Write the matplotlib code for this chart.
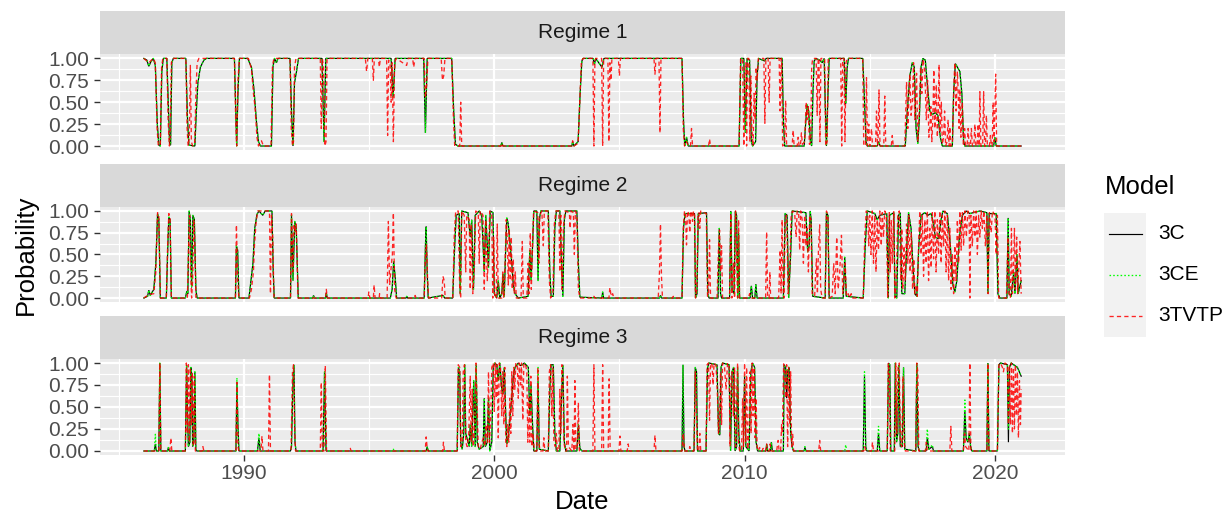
import matplotlib
matplotlib.use("Agg")
import matplotlib.pyplot as plt
from matplotlib.patches import Rectangle
from matplotlib.lines import Line2D

plt.rcParams["font.family"] = ["Liberation Sans", "DejaVu Sans"]

# ── Data (decimal year, smoothed probability) ──────────────────────────────
# Regime 1
c_r1 = [
    (1986.00, 1.00), (1986.12, 0.98), (1986.20, 0.91), (1986.28, 0.96), (1986.38, 1.00), (1986.46, 0.92),
    (1986.54, 0.25), (1986.60, 0.01), (1986.66, 0.00), (1986.72, 0.85), (1986.78, 1.00), (1986.92, 1.00),
    (1986.98, 0.45), (1987.03, 0.02), (1987.07, 0.01), (1987.12, 0.95), (1987.18, 1.00), (1987.68, 1.00),
    (1987.74, 0.35), (1987.80, 0.01), (1988.04, 0.00), (1988.10, 0.40), (1988.16, 0.72), (1988.26, 0.90),
    (1988.40, 0.98), (1988.50, 1.00), (1989.62, 1.00), (1989.67, 0.45), (1989.71, 0.00), (1989.76, 0.60),
    (1989.82, 1.00), (1990.15, 1.00), (1990.30, 0.90), (1990.40, 0.65), (1990.50, 0.28), (1990.58, 0.05),
    (1990.66, 0.00), (1991.10, 0.00), (1991.16, 0.90), (1991.22, 1.00), (1991.30, 0.95), (1991.36, 1.00),
    (1991.84, 1.00), (1991.90, 0.40), (1991.96, 0.00), (1992.02, 0.72), (1992.10, 0.85), (1992.18, 1.00),
    (1993.12, 1.00), (1993.20, 0.05), (1993.27, 1.00), (1995.88, 1.00), (1995.96, 0.56), (1996.04, 1.00),
    (1997.18, 1.00), (1997.25, 0.15), (1997.32, 1.00), (1998.30, 1.00), (1998.38, 0.40), (1998.45, 0.02),
    (1998.55, 0.00), (2000.26, 0.00), (2000.30, 0.04), (2000.35, 0.00), (2003.10, 0.00), (2003.13, 0.05),
    (2003.18, 0.00), (2003.35, 0.05), (2003.43, 0.60), (2003.50, 0.97), (2003.55, 1.00), (2003.95, 1.00),
    (2004.00, 0.93), (2004.05, 1.00), (2004.30, 0.90), (2004.38, 1.00), (2007.50, 1.00), (2007.56, 0.30),
    (2007.61, 0.00), (2007.68, 0.10), (2007.75, 0.00), (2009.78, 0.00), (2009.85, 1.00), (2009.97, 1.00),
    (2010.03, 0.15), (2010.10, 1.00), (2010.20, 0.98), (2010.27, 0.05), (2010.32, 0.00), (2010.44, 0.05),
    (2010.50, 0.80), (2010.56, 1.00), (2010.80, 0.97), (2010.86, 1.00), (2011.50, 1.00), (2011.55, 0.30),
    (2011.60, 0.00), (2012.38, 0.00), (2012.45, 0.30), (2012.50, 0.47), (2012.56, 0.40), (2012.63, 0.05),
    (2012.68, 0.00), (2012.73, 0.60), (2012.78, 0.97), (2012.85, 1.00), (2013.00, 0.98), (2013.10, 0.95),
    (2013.18, 1.00), (2013.22, 0.50), (2013.27, 0.00), (2013.32, 0.50), (2013.38, 1.00), (2013.98, 1.00),
    (2014.04, 0.48), (2014.10, 0.90), (2014.15, 1.00), (2014.72, 1.00), (2014.78, 0.60), (2014.85, 0.05),
    (2014.90, 0.00), (2015.30, 0.00), (2015.35, 0.05), (2015.42, 0.00), (2016.42, 0.00), (2016.50, 0.40),
    (2016.60, 0.80), (2016.70, 0.95), (2016.78, 0.90), (2016.85, 0.20), (2016.92, 0.03), (2016.98, 0.30),
    (2017.05, 0.90), (2017.12, 1.00), (2017.22, 0.98), (2017.30, 0.70), (2017.40, 0.40), (2017.50, 0.36),
    (2017.62, 0.38), (2017.72, 0.35), (2017.82, 0.10), (2017.90, 0.00), (2018.30, 0.00), (2018.35, 0.60),
    (2018.42, 0.94), (2018.50, 0.90), (2018.60, 0.85), (2018.68, 0.60), (2018.75, 0.05), (2018.80, 0.00),
    (2019.95, 0.00), (2020.00, 0.10), (2020.05, 0.00), (2021.05, 0.00),
]
ce_r1 = list(c_r1)  # 3CE sits on top of 3C in this regime
t_r1 = [
    (1986.00, 1.00), (1986.12, 0.97), (1986.20, 0.95), (1986.38, 1.00), (1986.46, 0.95), (1986.53, 0.20),
    (1986.58, 0.00), (1986.66, 0.02), (1986.71, 0.90), (1986.76, 1.00), (1986.92, 1.00), (1986.97, 0.30),
    (1987.02, 0.00), (1987.05, 0.10), (1987.10, 0.95), (1987.16, 1.00), (1987.68, 1.00), (1987.73, 0.20),
    (1987.77, 0.00), (1987.82, 0.10), (1987.86, 0.92), (1987.90, 0.05), (1987.95, 0.00), (1988.03, 0.02),
    (1988.08, 0.60), (1988.13, 0.95), (1988.20, 1.00), (1989.62, 1.00), (1989.67, 0.30), (1989.71, 0.00),
    (1989.76, 0.75), (1989.82, 1.00), (1990.18, 1.00), (1990.30, 0.88), (1990.38, 0.60), (1990.44, 0.45),
    (1990.52, 0.10), (1990.58, 0.00), (1990.70, 0.06), (1990.78, 0.00), (1991.08, 0.00), (1991.14, 0.92),
    (1991.20, 1.00), (1991.84, 1.00), (1991.89, 0.20), (1991.94, 0.00), (1991.98, 0.05), (1992.02, 0.90),
    (1992.08, 1.00), (1993.05, 1.00), (1993.09, 0.20), (1993.13, 1.00), (1993.18, 0.90), (1993.23, 0.00),
    (1993.28, 0.05), (1993.32, 1.00), (1994.85, 1.00), (1994.90, 0.85), (1994.95, 1.00), (1995.13, 1.00),
    (1995.17, 0.75), (1995.21, 1.00), (1995.37, 1.00), (1995.41, 0.90), (1995.45, 1.00), (1995.70, 1.00),
    (1995.74, 0.12), (1995.78, 0.98), (1995.84, 0.92), (1995.88, 0.50), (1995.92, 0.95), (1995.97, 0.05),
    (1996.02, 0.95), (1996.08, 1.00), (1996.50, 0.92), (1996.56, 1.00), (1996.74, 1.00), (1996.78, 0.90),
    (1996.84, 1.00), (1997.20, 1.00), (1997.25, 0.55), (1997.30, 0.70), (1997.35, 1.00), (1997.88, 1.00),
    (1997.93, 0.75), (1997.98, 0.80), (1998.03, 1.00), (1998.30, 1.00), (1998.37, 0.30), (1998.42, 0.00),
    (1998.62, 0.00), (1998.66, 0.50), (1998.70, 0.00), (2000.28, 0.00), (2000.30, 0.03), (2000.34, 0.00),
    (2003.10, 0.00), (2003.13, 0.06), (2003.18, 0.00), (2003.35, 0.03), (2003.42, 0.55), (2003.48, 0.97),
    (2003.55, 1.00), (2003.94, 1.00), (2003.98, 0.00), (2004.02, 0.97), (2004.06, 1.00), (2004.29, 1.00),
    (2004.33, 0.00), (2004.37, 1.00), (2004.54, 1.00), (2004.58, 0.05), (2004.62, 0.95), (2004.66, 0.75),
    (2004.70, 1.00), (2004.96, 1.00), (2005.00, 0.80), (2005.04, 1.00), (2006.38, 1.00), (2006.42, 0.82),
    (2006.46, 1.00), (2006.58, 1.00), (2006.62, 0.15), (2006.66, 1.00), (2007.50, 1.00), (2007.55, 0.20),
    (2007.60, 0.00), (2007.68, 0.05), (2007.75, 0.00), (2007.84, 0.00), (2007.88, 0.20), (2007.92, 0.00),
    (2008.56, 0.00), (2008.60, 0.08), (2008.64, 0.00), (2009.78, 0.00), (2009.84, 1.00), (2009.92, 1.00),
    (2009.97, 0.00), (2010.02, 0.90), (2010.05, 0.95), (2010.08, 0.00), (2010.12, 1.00), (2010.17, 1.00),
    (2010.21, 0.05), (2010.25, 0.80), (2010.29, 0.20), (2010.34, 0.00), (2010.38, 0.60), (2010.42, 0.30),
    (2010.46, 0.90), (2010.50, 0.75), (2010.55, 1.00), (2010.77, 1.00), (2010.81, 0.26), (2010.85, 1.00),
    (2010.94, 1.00), (2010.98, 0.50), (2011.02, 1.00), (2011.38, 1.00), (2011.42, 0.40), (2011.46, 1.00),
    (2011.48, 0.98), (2011.52, 0.00), (2011.60, 0.02), (2011.64, 0.52), (2011.68, 0.00), (2011.90, 0.00),
    (2011.94, 0.18), (2011.98, 0.00), (2012.10, 0.00), (2012.14, 0.10), (2012.18, 0.00), (2012.23, 0.00),
    (2012.27, 0.15), (2012.31, 0.02), (2012.40, 0.05), (2012.46, 0.50), (2012.50, 0.30), (2012.54, 0.45),
    (2012.59, 0.02), (2012.64, 0.05), (2012.68, 0.90), (2012.72, 1.00), (2012.86, 1.00), (2012.90, 0.35),
    (2012.94, 1.00), (2012.97, 1.00), (2013.01, 0.05), (2013.05, 1.00), (2013.20, 1.00), (2013.24, 0.00),
    (2013.30, 0.05), (2013.34, 1.00), (2013.84, 1.00), (2013.88, 0.00), (2013.92, 1.00), (2013.97, 1.00),
    (2014.01, 0.05), (2014.05, 0.95), (2014.10, 1.00), (2014.72, 1.00), (2014.76, 0.00), (2014.83, 0.02),
    (2014.87, 0.78), (2014.91, 0.00), (2014.96, 0.25), (2015.00, 0.00), (2015.07, 0.20), (2015.11, 0.00),
    (2015.23, 0.00), (2015.27, 0.40), (2015.31, 0.00), (2015.33, 0.05), (2015.37, 0.64), (2015.41, 0.00),
    (2015.56, 0.00), (2015.60, 0.57), (2015.64, 0.00), (2015.86, 0.00), (2015.90, 0.12), (2015.94, 0.00),
    (2016.40, 0.00), (2016.47, 0.73), (2016.52, 0.20), (2016.60, 0.82), (2016.65, 0.35), (2016.70, 0.50),
    (2016.75, 0.95), (2016.80, 0.30), (2016.87, 0.83), (2016.92, 0.05), (2016.98, 0.40), (2017.03, 0.90),
    (2017.08, 0.60), (2017.13, 0.99), (2017.20, 0.85), (2017.26, 0.30), (2017.31, 0.75), (2017.36, 0.10),
    (2017.40, 0.20), (2017.44, 0.45), (2017.48, 0.05), (2017.52, 0.30), (2017.56, 0.87), (2017.60, 0.20),
    (2017.66, 0.70), (2017.70, 0.10), (2017.74, 0.40), (2017.77, 0.93), (2017.81, 0.15), (2017.86, 0.50),
    (2017.90, 0.02), (2017.95, 0.10), (2017.99, 0.40), (2018.03, 0.00), (2018.09, 0.05), (2018.13, 0.30),
    (2018.17, 0.00), (2018.20, 0.22), (2018.24, 0.00), (2018.30, 0.02), (2018.36, 0.70), (2018.40, 0.95),
    (2018.45, 0.40), (2018.50, 0.85), (2018.53, 0.65), (2018.57, 0.20), (2018.60, 0.65), (2018.64, 0.10),
    (2018.70, 0.50), (2018.74, 0.00), (2018.79, 0.20), (2018.83, 0.00), (2018.89, 0.00), (2018.93, 0.20),
    (2018.97, 0.00), (2019.02, 0.00), (2019.06, 0.20), (2019.10, 0.00), (2019.16, 0.00), (2019.20, 0.25),
    (2019.24, 0.00), (2019.29, 0.00), (2019.33, 0.25), (2019.37, 0.00), (2019.40, 0.62), (2019.44, 0.00),
    (2019.51, 0.00), (2019.55, 0.62), (2019.59, 0.00), (2019.62, 0.00), (2019.66, 0.35), (2019.70, 0.00),
    (2019.78, 0.00), (2019.82, 0.12), (2019.86, 0.00), (2019.89, 0.00), (2019.93, 0.50), (2019.97, 0.05),
    (2020.03, 0.82), (2020.07, 0.00), (2021.05, 0.00),
]

# Regime 2
c_r2 = [
    (1986.00, 0.00), (1986.15, 0.02), (1986.20, 0.09), (1986.26, 0.03), (1986.40, 0.10), (1986.48, 0.40),
    (1986.55, 0.97), (1986.60, 0.90), (1986.66, 0.00), (1986.90, 0.00), (1986.96, 0.60), (1987.00, 0.93),
    (1987.05, 0.90), (1987.10, 0.00), (1987.66, 0.00), (1987.72, 0.08), (1987.76, 0.05), (1987.81, 1.00),
    (1987.86, 0.90), (1987.91, 0.12), (1987.96, 0.95), (1988.02, 0.90), (1988.08, 0.10), (1988.13, 0.00),
    (1989.66, 0.00), (1989.70, 0.60), (1989.75, 0.55), (1989.80, 0.00), (1990.20, 0.00), (1990.26, 0.15),
    (1990.36, 0.40), (1990.43, 0.80), (1990.52, 0.96), (1990.60, 1.00), (1990.75, 0.95), (1990.85, 1.00),
    (1991.12, 1.00), (1991.17, 0.30), (1991.21, 0.00), (1991.86, 0.00), (1991.90, 0.95), (1991.96, 0.20),
    (1992.03, 0.88), (1992.09, 0.80), (1992.17, 0.00), (1992.76, 0.00), (1992.78, 0.03), (1992.82, 0.00),
    (1993.26, 0.00), (1993.29, 0.06), (1993.33, 0.00), (1995.85, 0.00), (1995.92, 0.10), (1995.98, 0.42),
    (1996.04, 0.25), (1996.10, 0.00), (1996.48, 0.00), (1996.50, 0.02), (1996.54, 0.00), (1997.20, 0.00),
    (1997.25, 0.60), (1997.28, 0.82), (1997.32, 0.30), (1997.36, 0.00), (1997.95, 0.03), (1998.02, 0.00),
    (1998.34, 0.00), (1998.42, 0.60), (1998.48, 0.95), (1998.60, 0.97), (1998.64, 0.05), (1998.70, 1.00),
    (1998.95, 0.98), (1999.04, 0.70), (1999.10, 0.90), (1999.17, 0.10), (1999.24, 0.95), (1999.40, 1.00),
    (1999.50, 0.95), (1999.60, 0.30), (1999.66, 0.95), (1999.77, 0.35), (1999.84, 1.00), (1999.95, 0.98),
    (2000.00, 0.05), (2000.10, 0.00), (2000.16, 0.20), (2000.22, 0.00), (2000.30, 0.05), (2000.35, 0.28),
    (2000.40, 0.02), (2000.46, 0.60), (2000.50, 0.92), (2000.56, 0.85), (2000.62, 0.65), (2000.70, 0.40),
    (2000.76, 0.15), (2000.83, 0.05), (2000.96, 0.00), (2001.35, 0.02), (2001.42, 0.55), (2001.47, 0.20),
    (2001.53, 0.60), (2001.58, 1.00), (2001.70, 1.00), (2001.75, 0.20), (2001.80, 0.90), (2001.86, 1.00),
    (2002.16, 1.00), (2002.22, 0.30), (2002.27, 0.02), (2002.36, 0.02), (2002.42, 0.80), (2002.48, 1.00),
    (2002.62, 1.00), (2002.68, 0.45), (2002.74, 0.02), (2002.80, 0.90), (2002.86, 1.00), (2003.30, 1.00),
    (2003.36, 0.40), (2003.42, 0.01), (2004.30, 0.00), (2004.33, 0.07), (2004.37, 0.00), (2006.60, 0.00),
    (2006.64, 0.03), (2006.68, 0.00), (2007.50, 0.00), (2007.56, 0.80), (2007.62, 0.97), (2008.00, 0.97),
    (2008.04, 0.00), (2008.10, 0.05), (2008.15, 0.97), (2008.48, 0.98), (2008.53, 0.05), (2008.58, 0.00),
    (2008.94, 0.00), (2008.99, 0.80), (2009.04, 0.05), (2009.08, 0.00), (2009.40, 0.00), (2009.45, 1.00),
    (2009.50, 0.10), (2009.58, 0.05), (2009.63, 1.00), (2009.68, 0.95), (2009.73, 0.00), (2009.76, 0.75),
    (2009.80, 0.00), (2010.22, 0.00), (2010.27, 0.14), (2010.32, 0.00), (2010.41, 0.00), (2010.45, 0.16),
    (2010.50, 0.00), (2011.55, 0.00), (2011.62, 0.97), (2011.70, 0.95), (2011.76, 0.00), (2011.84, 0.50),
    (2011.90, 1.00), (2012.45, 0.98), (2012.52, 0.53), (2012.58, 0.60), (2012.62, 1.00), (2012.66, 0.90),
    (2012.72, 0.02), (2013.22, 0.00), (2013.27, 0.98), (2013.33, 0.95), (2013.38, 0.00), (2013.94, 0.00),
    (2014.00, 0.47), (2014.06, 0.02), (2014.74, 0.00), (2014.82, 0.60), (2014.90, 1.00), (2015.20, 0.97),
    (2015.30, 0.90), (2015.40, 0.95), (2015.68, 0.97), (2015.74, 0.00), (2015.79, 0.95), (2015.96, 0.98),
    (2016.01, 0.02), (2016.08, 0.00), (2016.15, 0.95), (2016.22, 0.98), (2016.28, 0.05), (2016.40, 0.05),
    (2016.48, 0.60), (2016.55, 0.98), (2016.65, 0.80), (2016.72, 0.40), (2016.80, 0.05), (2016.88, 0.02),
    (2016.96, 0.60), (2017.05, 0.95), (2017.20, 0.98), (2017.32, 0.95), (2017.45, 0.97), (2017.55, 0.85),
    (2017.62, 0.70), (2017.75, 0.68), (2017.85, 0.90), (2017.92, 1.00), (2018.10, 0.97), (2018.22, 0.60),
    (2018.32, 0.15), (2018.40, 0.07), (2018.48, 0.20), (2018.58, 0.70), (2018.70, 0.95), (2018.85, 1.00),
    (2019.00, 0.97), (2019.40, 1.00), (2019.68, 0.98), (2019.72, 0.05), (2019.77, 0.97), (2020.05, 0.97),
    (2020.12, 0.05), (2020.20, 0.00), (2020.48, 0.00), (2020.53, 0.92), (2020.57, 0.05), (2020.65, 0.02),
    (2020.75, 0.30), (2020.80, 0.05), (2020.88, 0.50), (2020.93, 0.05), (2021.05, 0.20),
]
ce_r2 = list(c_r2)  # 3CE sits on top of 3C in this regime
t_r2 = [
    (1986.00, 0.00), (1986.20, 0.04), (1986.40, 0.05), (1986.48, 0.30), (1986.55, 0.98), (1986.60, 0.95),
    (1986.66, 0.00), (1986.90, 0.00), (1986.96, 0.70), (1987.00, 0.97), (1987.05, 0.93), (1987.10, 0.00),
    (1987.74, 0.00), (1987.79, 0.60), (1987.83, 0.95), (1987.87, 0.30), (1987.91, 0.00), (1987.95, 0.20),
    (1988.00, 0.90), (1988.04, 0.60), (1988.08, 0.00), (1989.66, 0.00), (1989.70, 0.84), (1989.75, 0.20),
    (1989.80, 0.00), (1990.22, 0.00), (1990.30, 0.10), (1990.38, 0.30), (1990.42, 0.60), (1990.48, 0.85),
    (1990.55, 1.00), (1991.02, 1.00), (1991.06, 0.05), (1991.10, 0.95), (1991.15, 0.70), (1991.20, 0.00),
    (1991.86, 0.00), (1991.90, 0.97), (1991.95, 0.30), (1992.00, 0.85), (1992.05, 0.75), (1992.09, 0.85),
    (1992.16, 0.00), (1993.26, 0.00), (1993.29, 0.10), (1993.33, 0.00), (1994.96, 0.00), (1994.99, 0.07),
    (1995.03, 0.00), (1995.17, 0.00), (1995.20, 0.15), (1995.24, 0.00), (1995.40, 0.00), (1995.42, 0.05),
    (1995.46, 0.00), (1995.72, 0.00), (1995.77, 0.88), (1995.82, 0.15), (1995.88, 0.35), (1995.93, 0.50),
    (1995.97, 0.98), (1996.02, 0.10), (1996.08, 0.00), (1996.80, 0.00), (1996.84, 0.03), (1996.88, 0.00),
    (1997.20, 0.00), (1997.25, 0.45), (1997.29, 0.62), (1997.34, 0.20), (1997.38, 0.00), (1997.90, 0.00),
    (1997.95, 0.25), (1998.00, 0.20), (1998.04, 0.00), (1998.34, 0.00), (1998.40, 0.70), (1998.46, 1.00),
    (1998.56, 1.00), (1998.62, 0.10), (1998.66, 0.00), (1998.70, 1.00), (1998.80, 0.95), (1998.86, 0.30),
    (1998.90, 0.95), (1999.00, 0.90), (1999.04, 0.10), (1999.08, 0.85), (1999.14, 0.05), (1999.20, 0.30),
    (1999.26, 1.00), (1999.36, 0.98), (1999.40, 0.40), (1999.44, 1.00), (1999.55, 0.95), (1999.60, 0.10),
    (1999.66, 0.90), (1999.72, 0.20), (1999.77, 0.50), (1999.82, 1.00), (1999.90, 0.95), (1999.94, 0.00),
    (1999.98, 0.70), (2000.02, 0.00), (2000.08, 0.00), (2000.12, 0.85), (2000.16, 0.00), (2000.30, 0.00),
    (2000.34, 0.30), (2000.38, 0.00), (2000.43, 0.40), (2000.48, 0.90), (2000.53, 0.60), (2000.56, 0.15),
    (2000.60, 0.80), (2000.64, 0.20), (2000.68, 0.70), (2000.72, 0.10), (2000.76, 0.45), (2000.80, 0.05),
    (2000.84, 0.30), (2000.88, 0.00), (2001.07, 0.00), (2001.12, 0.65), (2001.16, 0.00), (2001.30, 0.00),
    (2001.35, 0.40), (2001.39, 0.05), (2001.44, 0.75), (2001.48, 0.10), (2001.52, 0.50), (2001.57, 1.00),
    (2001.74, 0.98), (2001.78, 0.40), (2001.82, 0.95), (2001.90, 1.00), (2001.96, 0.60), (2002.00, 1.00),
    (2002.14, 1.00), (2002.20, 0.20), (2002.25, 0.00), (2002.34, 0.05), (2002.40, 0.85), (2002.46, 1.00),
    (2002.58, 1.00), (2002.62, 0.30), (2002.66, 0.95), (2002.70, 0.10), (2002.76, 0.80), (2002.82, 1.00),
    (2003.00, 0.98), (2003.03, 0.80), (2003.07, 1.00), (2003.16, 0.98), (2003.20, 0.50), (2003.24, 1.00),
    (2003.30, 0.95), (2003.36, 0.10), (2003.42, 0.00), (2003.96, 0.00), (2003.98, 0.02), (2004.02, 0.00),
    (2004.58, 0.00), (2004.62, 0.12), (2004.67, 0.02), (2004.73, 0.05), (2004.78, 0.00), (2006.55, 0.00),
    (2006.60, 0.30), (2006.64, 0.85), (2006.68, 0.25), (2006.72, 0.00), (2007.12, 0.00), (2007.15, 0.02),
    (2007.19, 0.00), (2007.50, 0.00), (2007.55, 0.80), (2007.60, 1.00), (2007.64, 0.95), (2007.68, 0.61),
    (2007.72, 1.00), (2007.77, 0.97), (2007.81, 0.75), (2007.85, 1.00), (2007.89, 0.98), (2007.92, 0.88),
    (2007.96, 1.00), (2008.00, 0.95), (2008.04, 0.00), (2008.09, 0.10), (2008.14, 0.95), (2008.18, 0.98),
    (2008.21, 0.80), (2008.25, 1.00), (2008.47, 0.97), (2008.52, 0.02), (2008.56, 0.05), (2008.60, 0.67),
    (2008.64, 0.00), (2008.90, 0.00), (2008.96, 0.60), (2009.00, 0.78), (2009.04, 0.30), (2009.08, 0.60),
    (2009.12, 0.00), (2009.40, 0.00), (2009.45, 0.97), (2009.49, 0.00), (2009.55, 0.40), (2009.60, 0.00),
    (2009.64, 1.00), (2009.68, 0.50), (2009.72, 0.00), (2009.76, 0.90), (2009.80, 0.00), (2010.15, 0.00),
    (2010.20, 0.05), (2010.25, 0.00), (2010.84, 0.00), (2010.88, 0.76), (2010.92, 0.00), (2010.98, 0.00),
    (2011.01, 0.30), (2011.04, 0.00), (2011.36, 0.00), (2011.42, 0.55), (2011.46, 0.05), (2011.50, 0.90),
    (2011.54, 0.10), (2011.58, 0.00), (2011.62, 0.90), (2011.68, 0.95), (2011.74, 0.05), (2011.80, 0.30),
    (2011.86, 0.95), (2011.92, 1.00), (2012.00, 0.98), (2012.06, 0.70), (2012.10, 1.00), (2012.16, 0.98),
    (2012.20, 0.55), (2012.24, 1.00), (2012.30, 0.90), (2012.35, 0.40), (2012.40, 0.95), (2012.45, 0.60),
    (2012.50, 0.80), (2012.55, 0.30), (2012.60, 0.95), (2012.65, 0.90), (2012.70, 0.05), (2012.80, 0.02),
    (2012.84, 0.30), (2012.87, 0.45), (2012.91, 0.05), (2012.95, 0.55), (2013.00, 0.84), (2013.04, 0.10),
    (2013.10, 0.00), (2013.22, 0.00), (2013.27, 1.00), (2013.33, 0.95), (2013.37, 0.00), (2013.50, 0.02),
    (2013.56, 0.40), (2013.62, 0.05), (2013.68, 0.70), (2013.74, 0.10), (2013.80, 0.30), (2013.87, 0.72),
    (2013.92, 0.05), (2013.97, 0.20), (2014.02, 0.40), (2014.07, 0.02), (2014.14, 0.05), (2014.20, 0.00),
    (2014.26, 0.05), (2014.30, 0.00), (2014.74, 0.00), (2014.80, 0.70), (2014.86, 1.00), (2014.92, 0.97),
    (2014.96, 0.60), (2015.00, 0.95), (2015.05, 0.50), (2015.10, 1.00), (2015.15, 0.40), (2015.20, 0.95),
    (2015.25, 0.30), (2015.30, 0.90), (2015.35, 0.55), (2015.40, 1.00), (2015.46, 0.60), (2015.50, 0.98),
    (2015.55, 0.70), (2015.60, 1.00), (2015.66, 0.95), (2015.72, 0.00), (2015.78, 0.98), (2015.82, 0.30),
    (2015.86, 0.90), (2015.90, 0.40), (2015.96, 1.00), (2016.00, 0.00), (2016.06, 0.20), (2016.12, 0.95),
    (2016.18, 1.00), (2016.24, 0.20), (2016.28, 0.80), (2016.32, 0.10), (2016.37, 0.60), (2016.42, 0.20),
    (2016.47, 0.85), (2016.52, 0.40), (2016.56, 0.95), (2016.61, 0.30), (2016.66, 0.75), (2016.71, 0.10),
    (2016.76, 0.45), (2016.80, 0.05), (2016.86, 0.15), (2016.90, 0.02), (2016.96, 0.70), (2017.00, 1.00),
    (2017.05, 0.50), (2017.10, 0.95), (2017.15, 0.25), (2017.20, 0.90), (2017.25, 0.40), (2017.30, 1.00),
    (2017.35, 0.20), (2017.40, 0.80), (2017.45, 0.35), (2017.50, 0.98), (2017.55, 0.45), (2017.60, 1.00),
    (2017.65, 0.30), (2017.70, 0.90), (2017.75, 0.50), (2017.80, 1.00), (2017.85, 0.40), (2017.90, 0.95),
    (2017.95, 0.60), (2018.00, 1.00), (2018.05, 0.30), (2018.10, 0.95), (2018.15, 0.20), (2018.20, 0.80),
    (2018.25, 0.10), (2018.30, 0.50), (2018.35, 0.05), (2018.40, 0.60), (2018.45, 0.20), (2018.50, 0.90),
    (2018.55, 0.40), (2018.60, 1.00), (2018.65, 0.55), (2018.70, 0.98), (2018.75, 0.60), (2018.80, 1.00),
    (2018.86, 0.70), (2018.92, 1.00), (2018.97, 0.98), (2019.00, 0.00), (2019.04, 0.95), (2019.10, 0.60),
    (2019.15, 1.00), (2019.20, 0.70), (2019.25, 1.00), (2019.30, 0.50), (2019.35, 0.95), (2019.40, 0.70),
    (2019.45, 1.00), (2019.50, 0.80), (2019.56, 1.00), (2019.62, 0.60), (2019.68, 0.95), (2019.73, 0.05),
    (2019.78, 0.98), (2019.85, 0.75), (2019.90, 1.00), (2020.00, 0.95), (2020.05, 0.50), (2020.10, 0.95),
    (2020.15, 0.00), (2020.46, 0.00), (2020.52, 0.70), (2020.56, 0.05), (2020.62, 0.00), (2020.66, 0.80),
    (2020.70, 0.05), (2020.74, 0.30), (2020.78, 0.80), (2020.82, 0.10), (2020.87, 0.70), (2020.91, 0.05),
    (2020.96, 0.40), (2021.00, 0.65), (2021.05, 0.05),
]

# Regime 3
c_r3 = [
    (1986.00, 0.00), (1986.42, 0.00), (1986.46, 0.08), (1986.50, 0.00), (1986.60, 0.00), (1986.64, 1.00),
    (1986.68, 0.00), (1986.95, 0.00), (1986.98, 0.04), (1987.02, 0.00), (1987.66, 0.00), (1987.71, 0.98),
    (1987.75, 0.40), (1987.78, 0.05), (1987.84, 0.10), (1987.88, 0.95), (1987.92, 0.85), (1987.95, 0.05),
    (1988.00, 0.10), (1988.04, 0.90), (1988.08, 0.02), (1988.12, 0.00), (1989.68, 0.00), (1989.72, 0.78),
    (1989.76, 0.30), (1989.80, 0.00), (1990.54, 0.00), (1990.60, 0.15), (1990.65, 0.00), (1991.86, 0.00),
    (1991.90, 0.05), (1991.96, 0.80), (1992.00, 0.98), (1992.04, 0.10), (1992.08, 0.00), (1993.16, 0.00),
    (1993.22, 0.90), (1993.28, 0.00), (1997.28, 0.00), (1997.32, 0.05), (1997.36, 0.00), (1998.52, 0.00),
    (1998.57, 0.95), (1998.62, 0.90), (1998.66, 0.10), (1998.72, 0.02), (1998.78, 0.20), (1998.82, 0.98),
    (1998.86, 0.20), (1999.00, 0.05), (1999.04, 0.30), (1999.10, 0.05), (1999.18, 0.80), (1999.24, 0.05),
    (1999.28, 0.98), (1999.32, 0.10), (1999.40, 0.02), (1999.56, 0.05), (1999.60, 0.60), (1999.64, 0.05),
    (1999.72, 0.10), (1999.77, 0.60), (1999.82, 0.00), (1999.90, 0.10), (1999.96, 0.95), (2000.02, 1.00),
    (2000.10, 0.98), (2000.16, 0.80), (2000.22, 1.00), (2000.30, 0.70), (2000.35, 0.65), (2000.40, 0.95),
    (2000.46, 0.40), (2000.50, 0.08), (2000.56, 0.15), (2000.62, 0.35), (2000.70, 0.60), (2000.76, 0.85),
    (2000.83, 0.95), (2000.96, 1.00), (2001.05, 0.97), (2001.12, 0.98), (2001.20, 1.00), (2001.30, 0.97),
    (2001.36, 0.95), (2001.42, 0.40), (2001.47, 0.75), (2001.53, 0.30), (2001.58, 0.00), (2001.70, 0.00),
    (2001.75, 0.80), (2001.80, 0.02), (2002.16, 0.00), (2002.22, 0.70), (2002.27, 0.98), (2002.36, 0.98),
    (2002.42, 0.20), (2002.48, 0.00), (2002.62, 0.00), (2002.68, 0.55), (2002.74, 0.98), (2002.80, 0.10),
    (2002.86, 0.00), (2003.30, 0.00), (2003.36, 0.30), (2003.42, 0.03), (2003.50, 0.00), (2007.50, 0.00),
    (2007.54, 0.98), (2007.58, 0.05), (2007.62, 0.00), (2007.98, 0.00), (2008.03, 0.95), (2008.08, 0.90),
    (2008.12, 0.00), (2008.46, 0.00), (2008.52, 0.95), (2008.58, 1.00), (2008.90, 0.98), (2008.96, 0.20),
    (2009.01, 0.18), (2009.06, 0.95), (2009.12, 1.00), (2009.38, 0.98), (2009.44, 0.00), (2009.50, 0.90),
    (2009.56, 0.95), (2009.62, 0.00), (2009.68, 0.05), (2009.72, 0.95), (2009.77, 0.20), (2009.82, 0.00),
    (2009.95, 0.00), (2010.00, 0.85), (2010.05, 0.05), (2010.18, 0.00), (2010.25, 0.90), (2010.32, 1.00),
    (2010.40, 0.95), (2010.46, 0.10), (2010.52, 0.00), (2010.86, 0.00), (2010.88, 0.08), (2010.92, 0.00),
    (2011.03, 0.00), (2011.07, 0.10), (2011.11, 0.00), (2011.55, 0.00), (2011.58, 0.98), (2011.64, 0.95),
    (2011.68, 0.60), (2011.72, 0.90), (2011.78, 0.95), (2011.84, 0.20), (2011.90, 0.05), (2011.95, 0.00),
    (2012.38, 0.00), (2012.41, 0.04), (2012.45, 0.00), (2014.74, 0.00), (2014.79, 0.85), (2014.84, 0.05),
    (2014.88, 0.00), (2015.30, 0.00), (2015.35, 0.20), (2015.40, 0.00), (2015.70, 0.00), (2015.75, 1.00),
    (2015.80, 0.98), (2015.84, 0.00), (2015.98, 0.00), (2016.02, 1.00), (2016.07, 0.10), (2016.12, 0.20),
    (2016.16, 0.98), (2016.22, 0.05), (2016.30, 0.05), (2016.35, 0.95), (2016.40, 0.02), (2016.84, 0.00),
    (2016.88, 1.00), (2016.93, 0.05), (2016.98, 0.00), (2017.25, 0.00), (2017.30, 0.15), (2017.36, 0.02),
    (2017.50, 0.05), (2017.55, 0.00), (2018.74, 0.00), (2018.80, 0.45), (2018.85, 0.15), (2018.92, 0.10),
    (2018.98, 0.20), (2019.03, 0.05), (2019.08, 0.00), (2019.68, 0.00), (2019.72, 1.00), (2019.76, 0.00),
    (2020.10, 0.00), (2020.16, 0.98), (2020.22, 1.00), (2020.50, 0.98), (2020.54, 0.10), (2020.58, 0.95),
    (2020.65, 1.00), (2020.80, 0.97), (2020.90, 0.95), (2021.05, 0.85),
]
ce_r3 = [
    (1986.00, 0.00), (1986.42, 0.00), (1986.46, 0.19), (1986.50, 0.00), (1986.60, 0.00), (1986.64, 1.00),
    (1986.68, 0.00), (1986.95, 0.00), (1986.98, 0.04), (1987.02, 0.00), (1987.66, 0.00), (1987.71, 0.98),
    (1987.75, 0.40), (1987.78, 0.05), (1987.84, 0.10), (1987.88, 0.95), (1987.92, 0.85), (1987.95, 0.05),
    (1988.00, 0.10), (1988.04, 0.90), (1988.08, 0.02), (1988.12, 0.00), (1989.68, 0.00), (1989.72, 0.83),
    (1989.76, 0.30), (1989.80, 0.00), (1990.54, 0.00), (1990.60, 0.20), (1990.65, 0.00), (1991.86, 0.00),
    (1991.90, 0.05), (1991.96, 0.85), (1992.00, 0.98), (1992.04, 0.10), (1992.08, 0.00), (1993.16, 0.00),
    (1993.22, 0.90), (1993.28, 0.00), (1995.95, 0.00), (1995.97, 0.02), (1996.00, 0.00), (1997.28, 0.00),
    (1997.32, 0.05), (1997.36, 0.00), (1998.52, 0.00), (1998.57, 0.95), (1998.62, 0.90), (1998.66, 0.10),
    (1998.72, 0.02), (1998.78, 0.20), (1998.82, 0.98), (1998.86, 0.20), (1999.00, 0.05), (1999.04, 0.30),
    (1999.10, 0.05), (1999.18, 0.80), (1999.24, 0.05), (1999.28, 0.98), (1999.32, 0.10), (1999.40, 0.02),
    (1999.56, 0.05), (1999.60, 0.60), (1999.64, 0.05), (1999.72, 0.10), (1999.77, 0.60), (1999.82, 0.00),
    (1999.90, 0.10), (1999.96, 0.95), (2000.02, 1.00), (2000.10, 0.98), (2000.16, 0.80), (2000.22, 1.00),
    (2000.30, 0.70), (2000.35, 0.65), (2000.40, 0.95), (2000.46, 0.40), (2000.50, 0.08), (2000.56, 0.15),
    (2000.62, 0.35), (2000.70, 0.60), (2000.76, 0.85), (2000.83, 0.95), (2000.96, 1.00), (2001.05, 0.97),
    (2001.12, 0.98), (2001.20, 1.00), (2001.30, 0.97), (2001.36, 0.95), (2001.42, 0.40), (2001.47, 0.75),
    (2001.53, 0.30), (2001.58, 0.00), (2001.70, 0.00), (2001.75, 0.95), (2001.80, 0.02), (2002.16, 0.00),
    (2002.22, 0.70), (2002.27, 0.98), (2002.36, 0.98), (2002.42, 0.20), (2002.48, 0.00), (2002.62, 0.00),
    (2002.68, 0.55), (2002.74, 0.98), (2002.80, 0.10), (2002.86, 0.00), (2003.30, 0.00), (2003.36, 0.30),
    (2003.42, 0.03), (2003.50, 0.00), (2007.50, 0.00), (2007.54, 0.98), (2007.58, 0.05), (2007.62, 0.00),
    (2007.98, 0.00), (2008.03, 0.95), (2008.08, 0.90), (2008.12, 0.00), (2008.46, 0.00), (2008.52, 0.95),
    (2008.58, 1.00), (2008.90, 0.98), (2008.96, 0.20), (2009.01, 0.18), (2009.06, 0.95), (2009.12, 1.00),
    (2009.38, 0.98), (2009.44, 0.00), (2009.50, 0.90), (2009.56, 0.95), (2009.62, 0.00), (2009.68, 0.05),
    (2009.72, 0.95), (2009.77, 0.20), (2009.82, 0.00), (2009.95, 0.00), (2010.00, 0.85), (2010.05, 0.05),
    (2010.18, 0.00), (2010.25, 0.90), (2010.32, 1.00), (2010.40, 0.95), (2010.46, 0.10), (2010.52, 0.00),
    (2010.86, 0.00), (2010.88, 0.08), (2010.92, 0.00), (2011.03, 0.00), (2011.07, 0.10), (2011.11, 0.00),
    (2011.55, 0.00), (2011.58, 0.98), (2011.64, 0.95), (2011.68, 0.71), (2011.72, 0.95), (2011.78, 0.95),
    (2011.84, 0.20), (2011.90, 0.05), (2011.95, 0.00), (2012.38, 0.00), (2012.41, 0.05), (2012.45, 0.00),
    (2014.00, 0.00), (2014.04, 0.07), (2014.08, 0.00), (2014.74, 0.00), (2014.79, 0.90), (2014.84, 0.05),
    (2014.88, 0.00), (2015.30, 0.00), (2015.35, 0.28), (2015.40, 0.00), (2015.70, 0.00), (2015.75, 1.00),
    (2015.80, 0.98), (2015.84, 0.00), (2015.98, 0.00), (2016.02, 1.00), (2016.07, 0.10), (2016.12, 0.20),
    (2016.16, 0.98), (2016.22, 0.05), (2016.30, 0.05), (2016.35, 0.95), (2016.40, 0.02), (2016.84, 0.00),
    (2016.88, 1.00), (2016.93, 0.05), (2016.98, 0.00), (2017.25, 0.00), (2017.30, 0.25), (2017.36, 0.02),
    (2017.50, 0.07), (2017.55, 0.00), (2018.74, 0.00), (2018.80, 0.58), (2018.85, 0.15), (2018.92, 0.10),
    (2018.98, 0.20), (2019.03, 0.05), (2019.08, 0.00), (2019.68, 0.00), (2019.72, 1.00), (2019.76, 0.00),
    (2020.10, 0.00), (2020.16, 0.98), (2020.22, 1.00), (2020.50, 0.98), (2020.54, 0.25), (2020.58, 0.95),
    (2020.65, 1.00), (2020.80, 0.97), (2020.90, 0.95), (2021.05, 0.85),
]
t_r3 = [
    (1986.00, 0.00), (1986.60, 0.00), (1986.64, 1.00), (1986.68, 0.00), (1987.04, 0.00), (1987.08, 0.15),
    (1987.12, 0.00), (1987.66, 0.00), (1987.70, 1.00), (1987.74, 0.20), (1987.78, 0.98), (1987.82, 0.10),
    (1987.86, 0.95), (1987.90, 0.30), (1987.94, 0.90), (1987.98, 0.05), (1988.02, 0.85), (1988.06, 0.00),
    (1988.34, 0.00), (1988.36, 0.05), (1988.40, 0.00), (1989.68, 0.00), (1989.72, 0.78), (1989.76, 0.05),
    (1989.80, 0.00), (1990.68, 0.00), (1990.72, 0.17), (1990.76, 0.00), (1990.98, 0.00), (1991.02, 0.87),
    (1991.06, 0.00), (1991.88, 0.00), (1991.94, 0.90), (1991.98, 0.98), (1992.02, 0.30), (1992.06, 0.00),
    (1993.05, 0.00), (1993.09, 0.78), (1993.13, 0.00), (1993.20, 0.00), (1993.25, 0.97), (1993.30, 0.00),
    (1994.23, 0.00), (1994.25, 0.03), (1994.28, 0.00), (1997.24, 0.00), (1997.28, 0.16), (1997.33, 0.00),
    (1997.94, 0.00), (1997.97, 0.10), (1998.01, 0.00), (1998.52, 0.00), (1998.56, 0.98), (1998.62, 0.95),
    (1998.66, 0.05), (1998.72, 0.10), (1998.76, 0.90), (1998.81, 0.98), (1998.86, 0.10), (1998.92, 0.05),
    (1998.98, 0.20), (1999.04, 0.85), (1999.08, 0.10), (1999.12, 0.70), (1999.16, 0.05), (1999.22, 0.30),
    (1999.27, 1.00), (1999.32, 0.45), (1999.36, 0.05), (1999.44, 0.02), (1999.50, 0.10), (1999.57, 0.15),
    (1999.62, 0.05), (1999.68, 0.30), (1999.73, 0.10), (1999.77, 0.90), (1999.81, 0.10), (1999.86, 0.40),
    (1999.90, 0.95), (1999.96, 1.00), (2000.00, 0.45), (2000.04, 1.00), (2000.08, 0.60), (2000.12, 0.98),
    (2000.16, 0.15), (2000.20, 1.00), (2000.25, 0.95), (2000.30, 0.40), (2000.34, 0.90), (2000.38, 0.30),
    (2000.42, 0.95), (2000.46, 0.10), (2000.50, 0.05), (2000.54, 0.30), (2000.58, 0.10), (2000.62, 0.60),
    (2000.66, 0.20), (2000.70, 0.90), (2000.74, 0.40), (2000.78, 0.95), (2000.82, 0.70), (2000.86, 1.00),
    (2000.92, 0.98), (2000.96, 0.60), (2001.00, 1.00), (2001.05, 0.75), (2001.09, 1.00), (2001.14, 0.35),
    (2001.18, 0.98), (2001.24, 1.00), (2001.30, 0.90), (2001.34, 0.10), (2001.38, 0.60), (2001.42, 0.10),
    (2001.46, 0.85), (2001.50, 0.05), (2001.55, 0.20), (2001.60, 0.00), (2001.70, 0.00), (2001.74, 0.95),
    (2001.78, 0.10), (2001.83, 0.00), (2001.95, 0.00), (2001.98, 0.15), (2002.02, 0.00), (2002.16, 0.00),
    (2002.20, 0.90), (2002.25, 0.98), (2002.30, 0.40), (2002.34, 0.95), (2002.38, 0.10), (2002.44, 0.05),
    (2002.48, 0.20), (2002.52, 0.00), (2002.58, 0.00), (2002.62, 0.70), (2002.66, 0.20), (2002.70, 0.98),
    (2002.74, 0.85), (2002.78, 0.10), (2002.84, 0.00), (2002.89, 0.00), (2002.92, 0.85), (2002.96, 0.05),
    (2003.10, 0.00), (2003.14, 0.30), (2003.18, 0.00), (2003.19, 0.00), (2003.22, 0.80), (2003.26, 0.02),
    (2003.32, 0.05), (2003.36, 0.55), (2003.40, 0.00), (2003.94, 0.00), (2003.98, 0.98), (2004.02, 0.00),
    (2004.29, 0.00), (2004.33, 0.98), (2004.37, 0.00), (2004.55, 0.00), (2004.59, 0.82), (2004.63, 0.00),
    (2004.98, 0.00), (2005.02, 0.17), (2005.06, 0.00), (2005.31, 0.00), (2005.35, 0.08), (2005.39, 0.00),
    (2006.38, 0.00), (2006.42, 0.18), (2006.46, 0.00), (2007.50, 0.00), (2007.55, 0.20), (2007.60, 0.00),
    (2007.77, 0.00), (2007.81, 0.05), (2007.85, 0.00), (2007.98, 0.00), (2008.03, 0.90), (2008.08, 0.40),
    (2008.12, 0.00), (2008.17, 0.00), (2008.21, 0.20), (2008.25, 0.00), (2008.46, 0.00), (2008.50, 0.98),
    (2008.56, 1.00), (2008.60, 0.35), (2008.64, 1.00), (2008.70, 0.98), (2008.74, 0.75), (2008.78, 1.00),
    (2008.86, 0.97), (2008.92, 0.60), (2008.96, 0.20), (2009.00, 0.40), (2009.04, 0.90), (2009.08, 0.30),
    (2009.12, 1.00), (2009.20, 0.95), (2009.26, 0.70), (2009.32, 1.00), (2009.38, 0.98), (2009.42, 0.05),
    (2009.46, 0.85), (2009.50, 0.90), (2009.55, 0.40), (2009.60, 0.95), (2009.64, 0.05), (2009.68, 0.50),
    (2009.72, 1.00), (2009.76, 0.10), (2009.80, 0.00), (2009.88, 0.00), (2009.92, 0.60), (2009.96, 0.05),
    (2010.00, 1.00), (2010.04, 0.10), (2010.08, 0.95), (2010.12, 0.02), (2010.18, 0.30), (2010.22, 0.90),
    (2010.26, 0.20), (2010.30, 1.00), (2010.34, 0.40), (2010.38, 0.95), (2010.42, 0.15), (2010.46, 0.60),
    (2010.50, 0.05), (2010.55, 0.00), (2010.60, 0.04), (2010.63, 0.00), (2010.70, 0.00), (2010.74, 0.03),
    (2010.78, 0.00), (2010.84, 0.00), (2010.88, 0.08), (2010.92, 0.00), (2010.98, 0.00), (2011.02, 0.08),
    (2011.06, 0.00), (2011.28, 0.00), (2011.34, 0.12), (2011.38, 0.00), (2011.44, 0.00), (2011.48, 0.30),
    (2011.51, 0.20), (2011.56, 0.99), (2011.60, 0.90), (2011.64, 0.60), (2011.68, 0.98), (2011.72, 0.05),
    (2011.76, 0.95), (2011.80, 0.30), (2011.84, 0.90), (2011.88, 0.05), (2011.92, 0.20), (2011.96, 0.00),
    (2012.96, 0.00), (2013.00, 0.12), (2013.04, 0.00), (2014.76, 0.00), (2014.80, 0.05), (2014.84, 0.00),
    (2015.07, 0.00), (2015.11, 0.10), (2015.15, 0.00), (2015.70, 0.00), (2015.74, 1.00), (2015.78, 0.85),
    (2015.82, 0.00), (2016.00, 0.00), (2016.04, 1.00), (2016.08, 0.20), (2016.13, 0.95), (2016.18, 1.00),
    (2016.22, 0.10), (2016.28, 0.05), (2016.33, 0.85), (2016.37, 0.10), (2016.42, 0.00), (2016.84, 0.00),
    (2016.88, 1.00), (2016.92, 0.90), (2016.96, 0.00), (2017.22, 0.00), (2017.26, 0.10), (2017.30, 0.00),
    (2018.20, 0.00), (2018.24, 0.28), (2018.28, 0.00), (2018.74, 0.00), (2018.79, 0.20), (2018.83, 0.05),
    (2018.96, 0.00), (2019.00, 1.00), (2019.04, 0.00), (2019.68, 0.00), (2019.72, 1.00), (2019.76, 0.00),
    (2020.10, 0.00), (2020.16, 0.98), (2020.22, 1.00), (2020.30, 0.95), (2020.34, 0.90), (2020.40, 1.00),
    (2020.50, 0.98), (2020.54, 0.30), (2020.58, 0.98), (2020.62, 0.30), (2020.66, 1.00), (2020.70, 0.20),
    (2020.74, 0.95), (2020.78, 0.25), (2020.82, 0.98), (2020.86, 0.40), (2020.90, 0.90), (2020.94, 0.15),
    (2020.98, 0.80), (2021.02, 0.30), (2021.05, 0.70),
]

regimes = ["Regime 1", "Regime 2", "Regime 3"]
models = ["3C", "3CE", "3TVTP"]
series = {
    "Regime 1": (c_r1, ce_r1, t_r1),
    "Regime 2": (c_r2, ce_r2, t_r2),
    "Regime 3": (c_r3, ce_r3, t_r3),
}
x_breaks = [1990, 2000, 2010, 2020]
x_minor = [1985, 1995, 2005, 2015]
y_breaks = [0.0, 0.25, 0.5, 0.75, 1.0]
y_minor = [0.125, 0.375, 0.625, 0.875]

# ── Style (ggplot theme_grey look) ─────────────────────────────
STYLES = {
    "3C": dict(color="black", lw=0.85, ls="-", zorder=3),
    "3CE": dict(color="#00FF00", lw=0.95, ls=(0, (1.2, 1.6)), zorder=4),
    "3TVTP": dict(color="#FF0000", lw=0.95, ls=(0, (3.2, 2.4)), alpha=0.85, zorder=5),
}
PANEL_BG = "#EBEBEB"
STRIP_BG = "#D9D9D9"
TICK_TXT = "#4D4D4D"
TICK_SIZE = 15
TITLE_SIZE = 18.5

W, H = 1225, 516
fig = plt.figure(figsize=(W / 100, H / 100), dpi=100)


def rect(x0, y0, x1, y1):
    # pixel box (top-left origin) -> figure fraction
    return [x0 / W, 1 - y1 / H, (x1 - x0) / W, (y1 - y0) / H]


PX_L, PX_R = 100, 1065
layout = [(11.0, 54.0, 150.4), (163.5, 206.6, 302.4), (315.5, 358.6, 455.4)]
xlim = (1984.25, 2022.80)

for i, (name, (s_top, p_top, p_bot)) in enumerate(zip(regimes, layout)):
    strip = fig.add_axes(rect(PX_L, s_top, PX_R, p_top))
    strip.set_facecolor(STRIP_BG)
    strip.set_xticks([])
    strip.set_yticks([])
    for sp in strip.spines.values():
        sp.set_visible(False)
    strip.text(0.5, 0.5, name, ha="center", va="center", fontsize=TICK_SIZE,
               color="#1A1A1A", transform=strip.transAxes)

    ax = fig.add_axes(rect(PX_L, p_top, PX_R, p_bot))
    ax.set_facecolor(PANEL_BG)
    for sp in ax.spines.values():
        sp.set_visible(False)
    ax.set_xlim(*xlim)
    ax.set_ylim(-0.05, 1.05)
    ax.set_xticks(x_breaks)
    ax.set_xticks(x_minor, minor=True)
    ax.set_yticks(y_breaks)
    ax.set_yticklabels([f"{v:.2f}" for v in y_breaks])
    ax.set_yticks(y_minor, minor=True)
    ax.set_axisbelow(True)
    ax.grid(which="major", color="white", lw=1.6)
    ax.grid(which="minor", color="white", lw=0.8)
    ax.tick_params(which="minor", length=0)
    ax.tick_params(axis="y", which="major", length=4.3, width=1.0, color="#333333",
                   labelsize=TICK_SIZE, labelcolor=TICK_TXT, pad=3.5)
    if i < 2:
        ax.tick_params(axis="x", which="major", length=0, labelbottom=False)
    else:
        ax.tick_params(axis="x", which="major", length=4.3, width=1.0, color="#333333",
                       labelsize=TICK_SIZE, labelcolor=TICK_TXT, pad=2)

    for model, pts in zip(models, series[name]):
        xs = [p[0] for p in pts]
        ys = [p[1] for p in pts]
        ax.plot(xs, ys, solid_joinstyle="miter", **STYLES[model])

# Axis titles
fig.text(26 / W, 1 - 255 / H, "Probability", rotation=90, ha="center", va="center",
         fontsize=TITLE_SIZE, color="black")
fig.text(582 / W, 1 - 502 / H, "Date", ha="center", va="center",
         fontsize=TITLE_SIZE, color="black")

# Legend, drawn ggplot style
fig.text(1105 / W, 1 - 187 / H, "Model", ha="left", va="center", fontsize=TITLE_SIZE)
fig.patches.append(Rectangle((1104 / W, 1 - 336.7 / H), 42 / W, 123.4 / H,
                             transform=fig.transFigure, facecolor="#F2F2F2",
                             edgecolor="none"))
for model, ky in zip(models, [233.5, 275.0, 315.5]):
    st = dict(STYLES[model])
    st.pop("zorder")
    fig.lines.append(Line2D([1109 / W, 1142 / W], [1 - ky / H] * 2,
                            transform=fig.transFigure, **st))
    fig.text(1158 / W, 1 - ky / H, model, ha="left", va="center", fontsize=TICK_SIZE)

plt.savefig("out.png", dpi=100, facecolor="white")
plt.close()
